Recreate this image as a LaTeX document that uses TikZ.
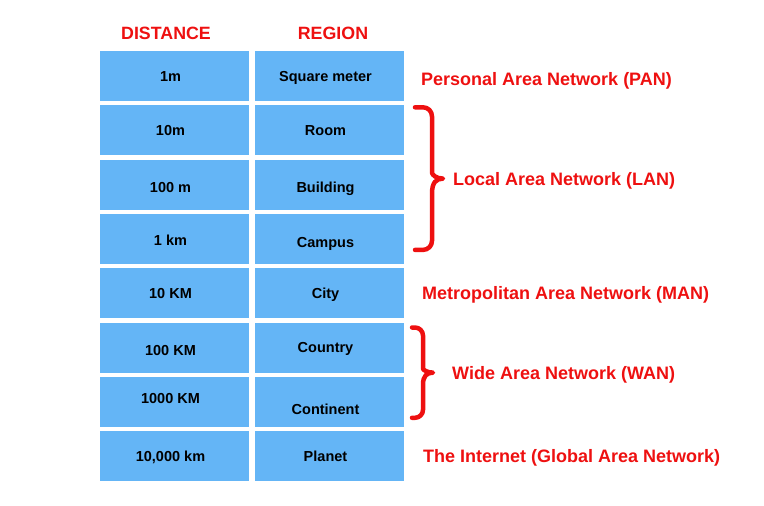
\documentclass[tikz,border=0pt]{standalone}
\usepackage{fontspec}
\setmainfont{Liberation Sans}
\usetikzlibrary{positioning, calc}
\definecolor{cellblue}{HTML}{64B5F6}
\definecolor{netred}{RGB}{238,16,16}

\begin{document}
\begin{tikzpicture}[
  x=1pt, y=-1pt,
  node distance=4.3pt and 6pt,
  cell/.style={rectangle, fill=cellblue, draw=none, inner sep=0pt, outer sep=0pt, minimum width=149pt, text height=30pt, text depth=20pt, font=\fontsize{14.5}{17}\selectfont\bfseries, execute at end node={\hspace*{8pt}}},
  head/.style={text=netred, font=\fontsize{17.8}{21}\selectfont\bfseries},
  netlabel/.style={text=netred, font=\fontsize{18}{21}\selectfont\bfseries, inner sep=0pt, anchor=west, yshift=-2pt},
  netbrace/.style={draw=netred, line width=4.5pt, line cap=round, line join=round},
]
  \useasboundingbox (0,0) rectangle (764,506);

  % column heads
  \node[head] (hdist) at (166,33) {DISTANCE};
  \node[head] (hreg) at (333,33) {REGION};

  % table
  \node[cell] (d1) at (174.5,76) {1m};
  \node[cell, right=of d1] (r1) {Square meter};
  \node[cell, below=of d1] (d2) {10m};
  \node[cell, right=of d2] (r2) {Room};
  \node[cell, below=of d2] (d3) {\raisebox{-3pt}{100 m}};
  \node[cell, right=of d3] (r3) {\raisebox{-3pt}{Building}};
  \node[cell, below=of d3] (d4) {\raisebox{-2pt}{1 km}};
  \node[cell, right=of d4] (r4) {\raisebox{-4pt}{Campus}};
  \node[cell, below=of d4] (d5) {10 KM};
  \node[cell, right=of d5] (r5) {City};
  \node[cell, below=of d5] (d6) {\raisebox{-3pt}{100 KM}};
  \node[cell, right=of d6] (r6) {Country};
  \node[cell, below=of d6] (d7) {\raisebox{3pt}{1000 KM}};
  \node[cell, right=of d7] (r7) {\raisebox{-8pt}{Continent}};
  \node[cell, below=of d7] (d8) {10,000 km};
  \node[cell, right=of d8] (r8) {Planet};

  % network types
  \node[netlabel, right=17pt of r1, yshift=-3pt] (pan) {Personal Area Network (PAN)};
  \node[netlabel, right=18pt of r5] (man) {Metropolitan Area Network (MAN)};
  \node[netlabel, right=19pt of r8] (gan) {The Internet (Global Area Network)};

  \coordinate (lantop) at ($(r2.north east)+(11,2)$);
  \coordinate (lanbot) at ($(r4.south east)+(11,-14)$);
  \coordinate (lanmid) at ($(lantop)!0.5!(lanbot)$);
  \draw[netbrace, rounded corners=9pt] (lantop) -- ++(17,0) -- ($(lanmid)+(17,-15)$) [sharp corners]
    .. controls ($(lanmid)+(17,-4)$) and ($(lanmid)+(21,0)$) .. ($(lanmid)+(28,0)$)
    .. controls ($(lanmid)+(21,0)$) and ($(lanmid)+(17,4)$) .. ($(lanmid)+(17,15)$)
    [rounded corners=9pt] -- ($(lanbot)+(17,0)$) -- (lanbot);
  \node[netlabel] (lan) at ($(lanmid)+(38,0)$) {Local Area Network (LAN)};

  \coordinate (wantop) at ($(r6.north east)+(8,5)$);
  \coordinate (wanbot) at ($(r7.south east)+(8,-9)$);
  \coordinate (wanmid) at ($(wantop)!0.5!(wanbot)$);
  \draw[netbrace, rounded corners=8pt] (wantop) -- ++(11,0) -- ($(wanmid)+(11,-12)$) [sharp corners]
    .. controls ($(wanmid)+(11,-3)$) and ($(wanmid)+(15,0)$) .. ($(wanmid)+(21,0)$)
    .. controls ($(wanmid)+(15,0)$) and ($(wanmid)+(11,3)$) .. ($(wanmid)+(11,12)$)
    [rounded corners=8pt] -- ($(wanbot)+(11,0)$) -- (wanbot);
  \node[netlabel] (wan) at ($(wanmid)+(40,0)$) {Wide Area Network (WAN)};
\end{tikzpicture}
\end{document}
